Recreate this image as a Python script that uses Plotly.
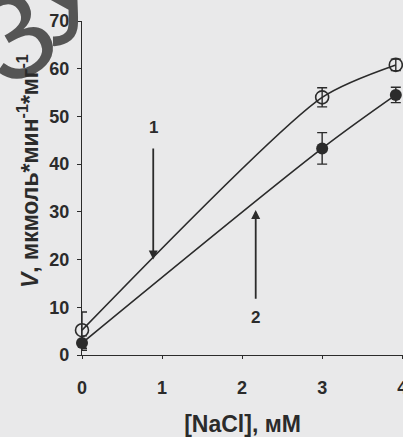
import plotly.graph_objects as go

# data
x_vals = [0, 3, 3.92]
v_open = [5.2, 54.0, 60.8]
v_open_err = [3.8, 2.0, 1.2]
v_fill = [2.5, 43.3, 54.5]
v_fill_err = [1.5, 3.3, 1.6]

x_ticks = [0, 1, 2, 3, 4]
y_ticks = [0, 10, 20, 30, 40, 50, 60, 70]

arrow_x = [0.89, 2.17]
arrow_head_y = [20.0, 30.4]
arrow_tail_y = [43.6, 11.5]
arrow_labels = ["1", "2"]
label_y = [47.6, 7.9]

INK = "#2b2b2b"
BG = "#e9e9ea"
WM = "#555555"
FONT = "Liberation Sans, Arial, sans-serif"

W, H = 403, 437
ML, MR, MT, MB = 82, 0, 21, 82
PW, PH = W - ML - MR, H - MT - MB


def px_to_paper(px, py):
    return (px - ML) / PW, (H - MB - py) / PH


fig = go.Figure()

fig.add_trace(go.Scatter(
    x=x_vals, y=v_open, mode="lines+markers",
    line=dict(color=INK, width=1.6, shape="spline", smoothing=0.7),
    marker=dict(symbol="circle-open", size=13, color=INK, line=dict(width=1.6)),
    error_y=dict(type="data", array=v_open_err, color=INK, thickness=1.4, width=5),
    cliponaxis=False, showlegend=False,
))
fig.add_trace(go.Scatter(
    x=x_vals, y=v_fill, mode="lines+markers",
    line=dict(color=INK, width=1.6, shape="spline", smoothing=0.9),
    marker=dict(symbol="circle", size=12, color=INK),
    error_y=dict(type="data", array=v_fill_err, color=INK, thickness=1.4, width=5),
    cliponaxis=False, showlegend=False,
))

for xa, hy, ty, lab, ly in zip(arrow_x, arrow_head_y, arrow_tail_y, arrow_labels, label_y):
    fig.add_annotation(x=xa, y=hy, ax=xa, ay=ty, xref="x", yref="y", axref="x", ayref="y",
                       showarrow=True, arrowhead=2, arrowsize=1.0, arrowwidth=1.8,
                       arrowcolor=INK, text="")
    fig.add_annotation(x=xa, y=ly, xref="x", yref="y", text="<b>" + lab + "</b>", showarrow=False,
                       font=dict(family=FONT, size=17, color=INK))

# watermark fragments (behind the chart content in the scan)
for ch, (cx, cy) in zip(["З", "У"], [(14, 36), (62, -4)]):
    wx, wy = px_to_paper(cx, cy)
    fig.add_annotation(x=wx, y=wy, xref="paper", yref="paper", text=ch, showarrow=False,
                       xanchor="center", yanchor="middle", textangle=-30,
                       font=dict(family=FONT, size=120, color=WM))

# y axis title as a rotated annotation (placed where the scan has it)
tx, ty = px_to_paper(28, 171)
fig.add_annotation(x=tx, y=ty, xref="paper", yref="paper", showarrow=False, textangle=-90,
                   xanchor="center", yanchor="middle",
                   text="<b><i>V</i>, мкмоль*мин<sup>-1</sup>*мг<sup>-1</sup></b>",
                   font=dict(family=FONT, size=23, color=INK))

fig.update_xaxes(range=[0, 4.01], tickvals=x_ticks, showgrid=False, zeroline=False,
                 automargin=False, ticklabeloverflow="allow",
                 showline=True, linecolor=INK, linewidth=1.2, ticks="outside", ticklen=3,
                 tickcolor=INK, ticklabelstandoff=13,
                 tickfont=dict(family=FONT, size=18, color=INK, weight="bold"),
                 title=dict(text="<b>[NaCl], мМ</b>", font=dict(family=FONT, size=23, color=INK),
                            standoff=19))
fig.update_yaxes(range=[0, 70], tickvals=y_ticks, showgrid=False, zeroline=False,
                 automargin=False,
                 showline=True, linecolor=INK, linewidth=1.2, ticks="outside", ticklen=4,
                 tickcolor=INK, ticklabelstandoff=4,
                 tickfont=dict(family=FONT, size=18, color=INK, weight="bold"))

fig.update_layout(
    width=W, height=H,
    margin=dict(l=ML, r=MR, t=MT, b=MB),
    paper_bgcolor=BG, plot_bgcolor=BG,
    font=dict(family=FONT, size=16, color=INK),
)

fig.write_html("out.html", config={"displayModeBar": False},
               post_script="document.body.style.margin='0px';"
                           "document.body.style.overflow='hidden';"
                           "document.body.style.background='" + BG + "';")
